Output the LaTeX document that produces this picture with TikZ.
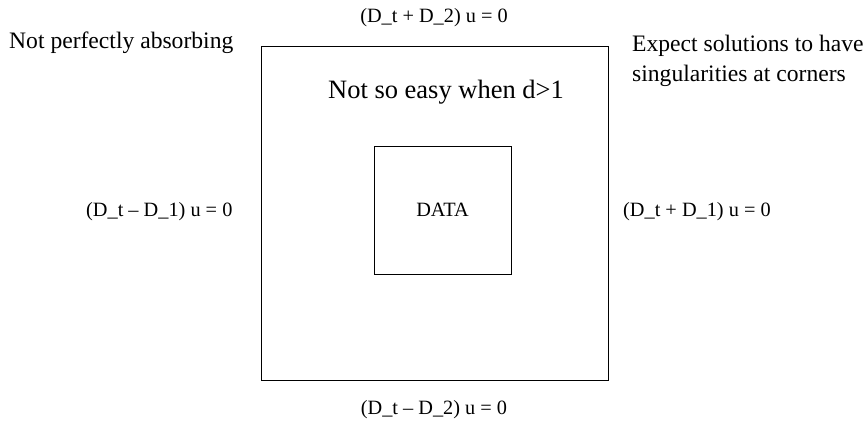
\documentclass[tikz,border=0pt]{standalone}
\usepackage{fontspec}
\setmainfont{Liberation Serif}
\begin{document}
\begin{tikzpicture}[x=1pt,y=-1pt,
  big/.style={inner sep=0pt,font=\fontsize{23.6}{27}\selectfont},
  huge/.style={inner sep=0pt,font=\fontsize{26.5}{30}\selectfont},
  eq/.style={inner sep=0pt,font=\fontsize{20.3}{24}\selectfont},
  box/.style={draw,line width=0.9pt,inner sep=0pt}]
\useasboundingbox (0,0) rectangle (865,425);
\node[box,minimum width=347pt,minimum height=334pt] (outer) at (434.5,213) {};
\node[box,minimum width=137pt,minimum height=128pt] (inner) at (442.5,210) {};
\node[eq] (data) at (inner.center) {DATA};
\node[eq] (top) at (434,18) {(D\_t + D\_2) u = 0};
\node[eq] (bottom) at (434,410) {(D\_t – D\_2) u = 0};
\node[eq,anchor=west] (left) at (86,212) {(D\_t – D\_1) u = 0};
\node[eq,anchor=west] (right) at (623,212) {(D\_t + D\_1) u = 0};
\node[big,anchor=west] (nperf) at (9,43) {Not perfectly absorbing};
\node[huge] (easy) at (446,92) {Not so easy when d>1};
\node[big,anchor=west] (exp1) at (632,46) {Expect solutions to have};
\node[big,anchor=west] (exp2) at (632,76) {singularities at corners};
\end{tikzpicture}
\end{document}
